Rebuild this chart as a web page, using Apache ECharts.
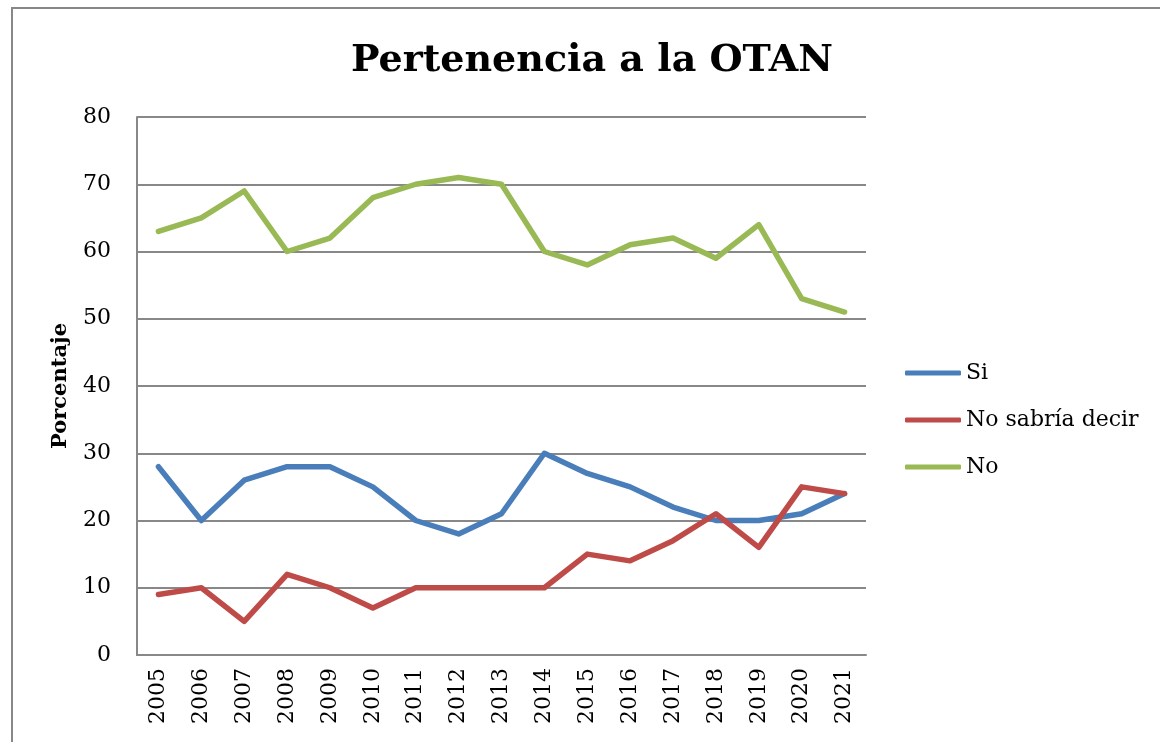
<!DOCTYPE html>
<html>
<head>
<meta charset="utf-8">
<script src="https://cdn.jsdelivr.net/npm/echarts@6/dist/echarts.min.js"></script>
<style>
  html, body { margin: 0; padding: 0; background: #fff; }
  #main { width: 1160px; height: 742px; }
</style>
</head>
<body>
<div id="main"></div>
<script>
// datos
const years = ['2005', '2006', '2007', '2008', '2009', '2010', '2011', '2012', '2013',
    '2014', '2015', '2016', '2017', '2018', '2019', '2020', '2021']
const si = [28, 20, 26, 28, 28, 25, 20, 18, 21, 30, 27, 25, 22, 20, 20, 21, 24]
const noSabria = [9, 10, 5, 12, 10, 7, 10, 10, 10, 10, 15, 14, 17, 21, 16, 25, 24]
const no = [63, 65, 69, 60, 62, 68, 70, 71, 70, 60, 58, 61, 62, 59, 64, 53, 51]

const serif = '"DejaVu Serif", serif'
const gray = '#888888'

function makeLine(name, data, color) {
    return {
        name: name,
        type: 'line',
        data: data,
        symbol: 'none',
        color: color,
        lineStyle: { width: 5.5, color: color, cap: 'round', join: 'round' }
    }
}

const chart = echarts.init(document.getElementById('main'))

var option = {
    animation: false,
    graphic: [{
        type: 'rect',
        shape: { x: 12, y: 8, width: 1200, height: 800 },
        style: { fill: 'none', stroke: gray, lineWidth: 2 },
        silent: true
    }],
    title: {
        text: 'Pertenencia a la OTAN',
        left: 587,
        top: 37,
        textAlign: 'center',
        textStyle: { fontFamily: serif, fontWeight: 'bold', fontSize: 38, color: '#000' }
    },
    legend: {
        orient: 'vertical',
        left: 900,
        top: 357,
        icon: 'roundRect',
        itemWidth: 56,
        itemHeight: 5,
        itemGap: 25,
        textStyle: { fontFamily: serif, fontSize: 22, color: '#000', lineHeight: 22 },
        data: ['Si', 'No sabría decir', 'No']
    },
    grid: {
        left: 137,
        right: 294,
        top: 117,
        bottom: 87
    },
    xAxis: {
        type: 'category',
        data: years,
        boundaryGap: true,
        axisLine: { lineStyle: { color: gray, width: 2 } },
        axisTick: { show: false },
        axisLabel: {
            rotate: 90,
            margin: 13,
            interval: 0,
            fontFamily: serif,
            fontSize: 22,
            color: '#000'
        }
    },
    yAxis: {
        type: 'value',
        min: 0,
        max: 80,
        interval: 10,
        name: 'Porcentaje',
        nameLocation: 'middle',
        nameGap: 66,
        nameRotate: 90,
        nameTextStyle: { fontFamily: serif, fontWeight: 'bold', fontSize: 21, color: '#000' },
        axisLine: { show: true, lineStyle: { color: gray, width: 2 } },
        axisTick: { show: false },
        splitLine: { lineStyle: { color: gray, width: 2 } },
        axisLabel: { margin: 26, fontFamily: serif, fontSize: 22, color: '#000' }
    },
    series: [
        makeLine('Si', si, '#4a7ebb'),
        makeLine('No sabría decir', noSabria, '#be4b48'),
        makeLine('No', no, '#98b954')
    ]
}
chart.setOption(option)
</script>
</body>
</html>
